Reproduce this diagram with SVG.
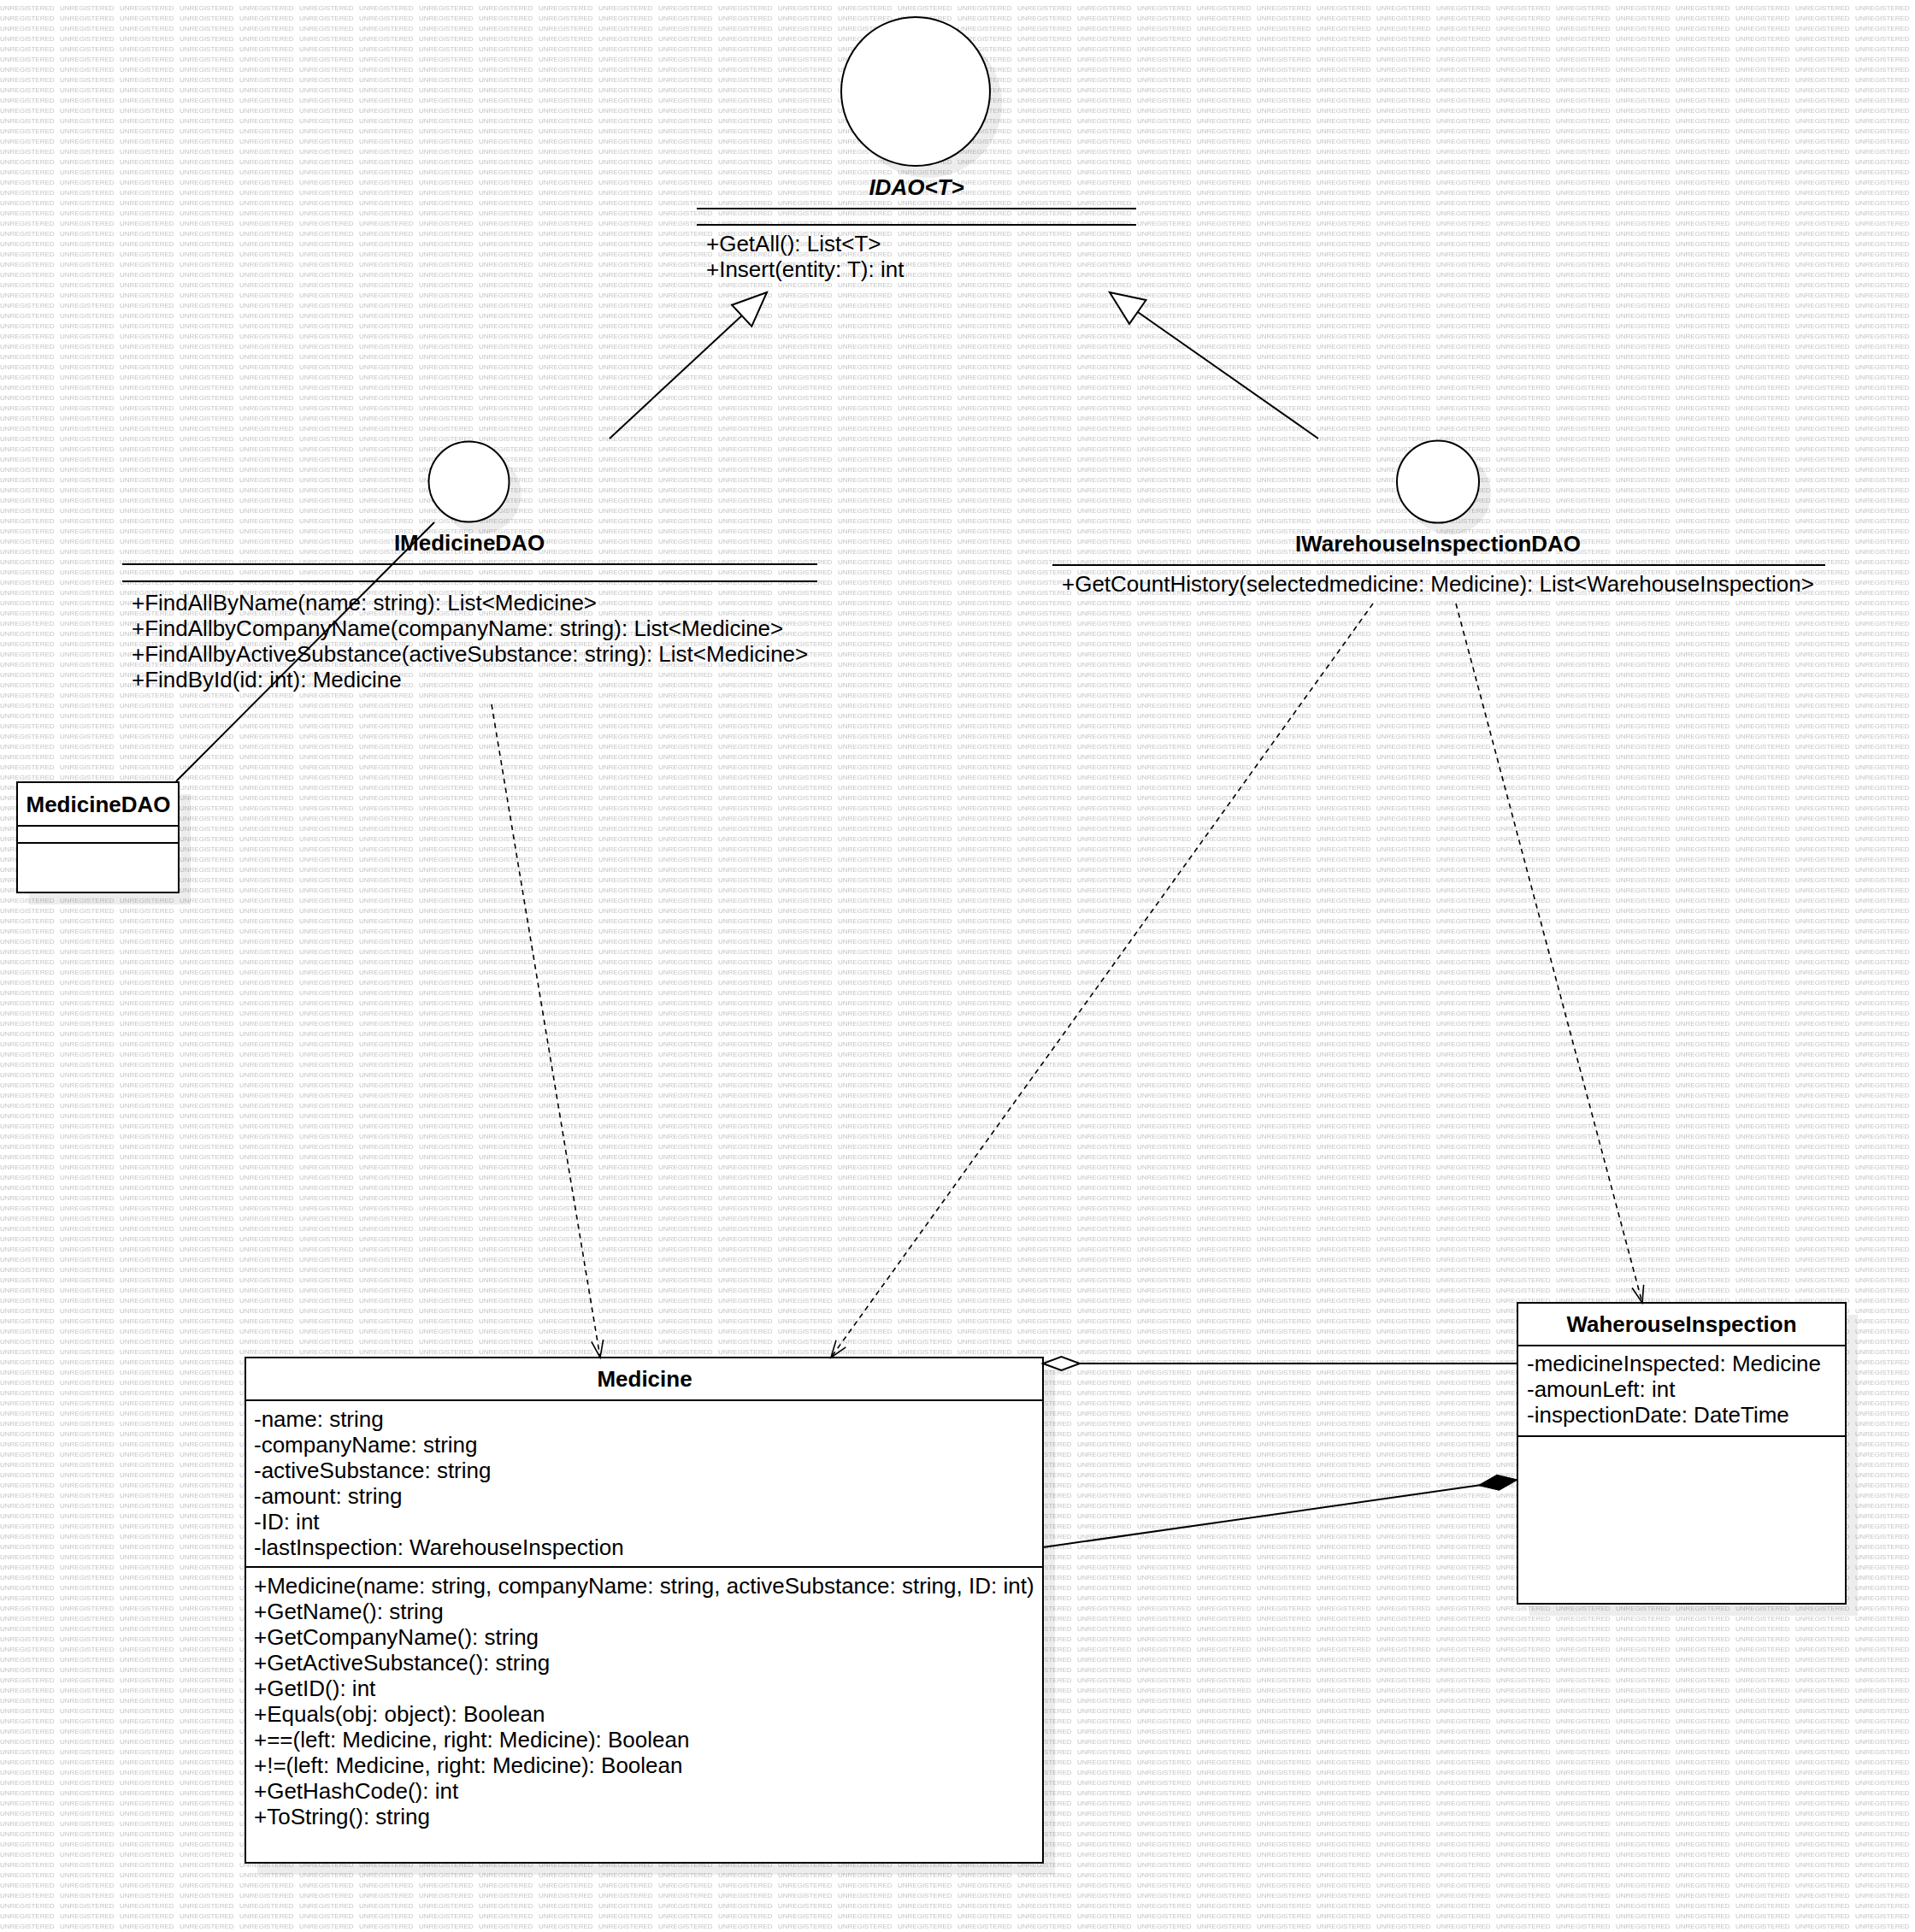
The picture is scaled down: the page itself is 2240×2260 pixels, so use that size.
<svg xmlns="http://www.w3.org/2000/svg" width="2240" height="2260" viewBox="0 0 2240 2260">
<style>
.wm{font-family:"Liberation Sans",Arial,sans-serif;font-size:8px;fill:#c4c4c4}
.name{font-family:"Liberation Sans",Arial,sans-serif;font-size:26px;font-weight:bold;text-anchor:middle;fill:#000}
.mem{font-family:"Liberation Sans",Arial,sans-serif;font-size:26px;fill:#000}
.box{fill:#fff;stroke:#000;stroke-width:2}
.sh{fill:#000;fill-opacity:0.07;stroke:none}
.sep{stroke:#000;stroke-width:2;fill:none}
.edge{fill:none;stroke:#000;stroke-width:2}
.dash{stroke-width:1.6;stroke-dasharray:6 5}
</style>
<defs>
<pattern id="wmark" width="70" height="12" patternUnits="userSpaceOnUse"><text class="wm" x="0" y="11.5">UNREGISTERED</text></pattern>
<marker id="tri" markerUnits="userSpaceOnUse" orient="auto" markerWidth="46" markerHeight="40" viewBox="-43 -20 46 40" refX="0" refY="0" overflow="visible"><path d="M0,0 L-40,-17 L-40,17 Z" fill="#fff" stroke="#000" stroke-width="2"/></marker>
<marker id="open" markerUnits="userSpaceOnUse" orient="auto" markerWidth="24" markerHeight="18" viewBox="-22 -9 24 18" refX="0" refY="0" overflow="visible"><path d="M-20,-7 L0,0 L-20,7" fill="none" stroke="#000" stroke-width="1.6"/></marker>
<marker id="agg" markerUnits="userSpaceOnUse" orient="auto" markerWidth="48" markerHeight="20" viewBox="-45 -10 48 20" refX="0" refY="0" overflow="visible"><path d="M0,0 L-21.5,-8 L-43,0 L-21.5,8 Z" fill="#fff" stroke="#000" stroke-width="2"/></marker>
<marker id="comp" markerUnits="userSpaceOnUse" orient="auto" markerWidth="50" markerHeight="22" viewBox="-48 -11 50 22" refX="0" refY="0" overflow="visible"><path d="M0,0 L-23,-9 L-46,0 L-23,9 Z" fill="#000" stroke="#000" stroke-width="1"/></marker>
</defs>
<rect width="2240" height="2260" fill="#fff"/>
<rect width="2240" height="2260" fill="url(#wmark)"/>

<g id="IDAO">
<circle class="sh" cx="1085" cy="121" r="87"/>
<circle class="box" cx="1071" cy="107" r="87"/>
<text class="name" x="1072" y="228" font-style="italic">IDAO&lt;T&gt;</text>
<line class="sep" x1="815" y1="244" x2="1329" y2="244"/>
<line class="sep" x1="815" y1="263" x2="1329" y2="263"/>
<text class="mem" x="826" y="294">+GetAll(): List&lt;T&gt;</text>
<text class="mem" x="826" y="324">+Insert(entity: T): int</text>
</g>

<g id="IMedicineDAO">
<circle class="sh" cx="562.5" cy="577.5" r="47"/>
<circle class="box" cx="548.5" cy="563.5" r="47"/>
<text class="name" x="549" y="644">IMedicineDAO</text>
<line class="sep" x1="143" y1="660" x2="956" y2="660"/>
<line class="sep" x1="143" y1="680" x2="956" y2="680"/>
<text class="mem" x="154" y="714">+FindAllByName(name: string): List&lt;Medicine&gt;</text>
<text class="mem" x="154" y="744">+FindAllbyCompanyName(companyName: string): List&lt;Medicine&gt;</text>
<text class="mem" x="154" y="774">+FindAllbyActiveSubstance(activeSubstance: string): List&lt;Medicine&gt;</text>
<text class="mem" x="154" y="804">+FindById(id: int): Medicine</text>
</g>

<g id="IWarehouseInspectionDAO">
<circle class="sh" cx="1696" cy="577.5" r="48"/>
<circle class="box" cx="1682" cy="563.5" r="48"/>
<text class="name" x="1682" y="645">IWarehouseInspectionDAO</text>
<line class="sep" x1="1231" y1="661" x2="2135" y2="661"/>
<text class="mem" x="1242" y="692">+GetCountHistory(selectedmedicine: Medicine): List&lt;WarehouseInspection&gt;</text>
</g>

<g id="MedicineDAO">
<rect class="sh" x="34" y="929" width="189" height="129"/>
<rect class="box" x="20" y="915" width="189" height="129"/>
<text class="name" x="115" y="950">MedicineDAO</text>
<line class="sep" x1="20" y1="966" x2="209" y2="966"/>
<line class="sep" x1="20" y1="986" x2="209" y2="986"/>
</g>

<g id="Medicine">
<rect class="sh" x="301" y="1602" width="933" height="591"/>
<rect class="box" x="287" y="1588" width="933" height="591"/>
<text class="name" x="754" y="1622">Medicine</text>
<line class="sep" x1="287" y1="1638" x2="1220" y2="1638"/>
<text class="mem" x="297" y="1669">-name: string</text>
<text class="mem" x="297" y="1699">-companyName: string</text>
<text class="mem" x="297" y="1729">-activeSubstance: string</text>
<text class="mem" x="297" y="1759">-amount: string</text>
<text class="mem" x="297" y="1789">-ID: int</text>
<text class="mem" x="297" y="1819">-lastInspection: WarehouseInspection</text>
<line class="sep" x1="287" y1="1833" x2="1220" y2="1833"/>
<text class="mem" x="297" y="1864">+Medicine(name: string, companyName: string, activeSubstance: string, ID: int)</text>
<text class="mem" x="297" y="1894">+GetName(): string</text>
<text class="mem" x="297" y="1924">+GetCompanyName(): string</text>
<text class="mem" x="297" y="1954">+GetActiveSubstance(): string</text>
<text class="mem" x="297" y="1984">+GetID(): int</text>
<text class="mem" x="297" y="2014">+Equals(obj: object): Boolean</text>
<text class="mem" x="297" y="2044">+==(left: Medicine, right: Medicine): Boolean</text>
<text class="mem" x="297" y="2074">+!=(left: Medicine, right: Medicine): Boolean</text>
<text class="mem" x="297" y="2104">+GetHashCode(): int</text>
<text class="mem" x="297" y="2134">+ToString(): string</text>
</g>

<g id="WaherouseInspection">
<rect class="sh" x="1789" y="1538" width="384" height="352"/>
<rect class="box" x="1775" y="1524" width="384" height="352"/>
<text class="name" x="1967" y="1558">WaherouseInspection</text>
<line class="sep" x1="1775" y1="1574" x2="2159" y2="1574"/>
<text class="mem" x="1786" y="1604">-medicineInspected: Medicine</text>
<text class="mem" x="1786" y="1634">-amounLeft: int</text>
<text class="mem" x="1786" y="1664">-inspectionDate: DateTime</text>
<line class="sep" x1="1775" y1="1680" x2="2159" y2="1680"/>
</g>

<g id="connectors">
<line class="edge" x1="206" y1="914" x2="508" y2="611"/>
<line class="edge" x1="713" y1="513" x2="897" y2="342" marker-end="url(#tri)"/>
<line class="edge" x1="1542" y1="513" x2="1298" y2="342" marker-end="url(#tri)"/>
<line class="edge dash" x1="575" y1="824" x2="702" y2="1588" marker-end="url(#open)"/>
<line class="edge dash" x1="1606" y1="706" x2="972" y2="1588" marker-end="url(#open)"/>
<line class="edge dash" x1="1703" y1="706" x2="1921" y2="1524" marker-end="url(#open)"/>
<line class="edge" x1="1775" y1="1595" x2="1220" y2="1595" marker-end="url(#agg)"/>
<line class="edge" x1="1220" y1="1810" x2="1775" y2="1731" stroke-width="2.6" marker-end="url(#comp)"/>
</g>
</svg>
